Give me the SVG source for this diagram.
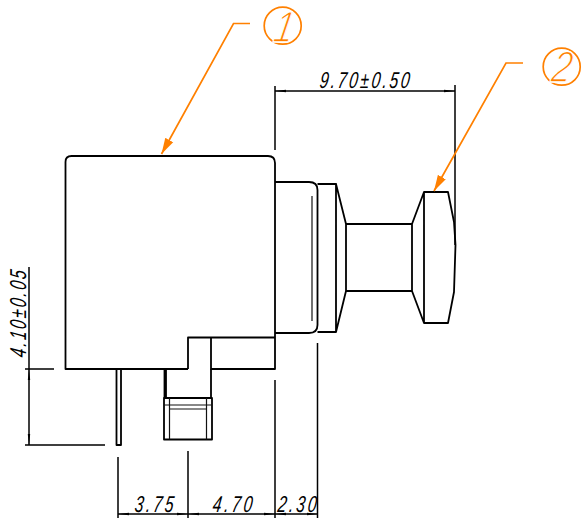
<svg xmlns="http://www.w3.org/2000/svg" width="584" height="525" viewBox="0 0 584 525">
<style>
.k{fill:none;stroke:#000;stroke-width:1.8;stroke-linejoin:round}
.t{fill:none;stroke:#111;stroke-width:1.2}
.d{fill:none;stroke:#000;stroke-width:1.5}
.o{fill:none;stroke:#ff8000;stroke-width:1.7}
.l{font-family:"Liberation Sans",Arial,sans-serif;font-style:italic;font-size:23px;fill:#000}
.n{font-family:"Liberation Sans",Arial,sans-serif;font-style:italic;font-size:44px;fill:#ff8000;stroke:#fff;stroke-width:1.3px}
</style>
<defs>
<marker id="a" markerUnits="userSpaceOnUse" markerWidth="12" markerHeight="4" refX="11" refY="2" orient="auto-start-reverse"><path d="M0 .8L11 2L0 3.200Z" fill="#000"/></marker>
<marker id="b" markerUnits="userSpaceOnUse" markerWidth="17" markerHeight="10" refX="16" refY="5" orient="auto"><path d="M0 .5L16 5L0 9.500Z" fill="#ff8000"/></marker>
</defs>
<rect width="584" height="525" fill="#fff"/>
<g id="body">
<path class="k" d="M188 369H65.500V162Q65.500 156 71.500 156H268Q275 156 275 163V369H211V337.500M275 337.500H188V369"/>
<path class="k" d="M275 182H309Q317.500 182 317.500 190V325Q317.500 333 309 333H275"/>
<path class="t" d="M312 196V321"/>
</g>
<g id="knob">
<path class="k" d="M317.500 184H336V332H317.500M336 184L346 224V291L336 332M346 224H412V291H346M412 224L424 192V323L412 291M424 192H448L454 222L455.500 245L454 292L448 323H424"/>
</g>
<g id="pins">
<path class="k" d="M116.500 369V445H121V369"/>
<path class="k" d="M164.500 369V398M166 369V398M211 369V398"/>
<path class="k" d="M164 398H212V439.500H164Z"/>
<path class="t" d="M169.500 398V439.500M206.500 398V439.500M164 405H212M169.500 409H206.500"/>
</g>
<g id="connectors">
<path class="d" d="M275 86V150M455 85V245M25 369H54M25 445H105M29 267V369M118 457V518M188 451V518M275 380V518M317.500 343V518"/>
<path class="d" marker-start="url(#a)" marker-end="url(#a)" d="M275 91H455"/>
<path class="d" marker-start="url(#a)" marker-end="url(#a)" d="M29 369V445"/>
<path class="d" marker-start="url(#a)" marker-end="url(#a)" d="M118 514H188"/>
<path class="d" marker-start="url(#a)" marker-end="url(#a)" d="M188 514H275"/>
<path class="d" marker-start="url(#a)" marker-end="url(#a)" d="M275 514H317.500"/>
<path class="o" marker-end="url(#b)" d="M250 23.500H233.500L161.500 154"/>
<path class="o" marker-end="url(#b)" d="M523 63H506L434 191"/>
</g>
<g id="dim-labels">
<text class="l" transform="translate(319 88) skewX(-8) scale(.68 1)" textLength="132" lengthAdjust="spacing">9.70±0.50</text>
<text class="l" transform="translate(26 358) rotate(-90) skewX(-8) scale(.68 1)" textLength="128" lengthAdjust="spacing">4.10±0.05</text>
<text class="l" transform="translate(134 511.500) skewX(-8) scale(.68 1)" textLength="57" lengthAdjust="spacing">3.75</text>
<text class="l" transform="translate(212 511.500) skewX(-8) scale(.68 1)" textLength="58" lengthAdjust="spacing">4.70</text>
<text class="l" transform="translate(277 511.500) skewX(-8) scale(.68 1)" textLength="57" lengthAdjust="spacing">2.30</text>
</g>
<g id="callout-1">
<circle class="o" cx="282.700" cy="25.700" r="18.500"/>
<text class="n" transform="translate(272 42) skewX(-10) scale(.8 1)">1</text>
</g>
<g id="callout-2">
<circle class="o" cx="561.700" cy="66.700" r="18.500"/>
<text class="n" transform="translate(550 82) skewX(-10) scale(.8 1)">2</text>
</g>
</svg>
